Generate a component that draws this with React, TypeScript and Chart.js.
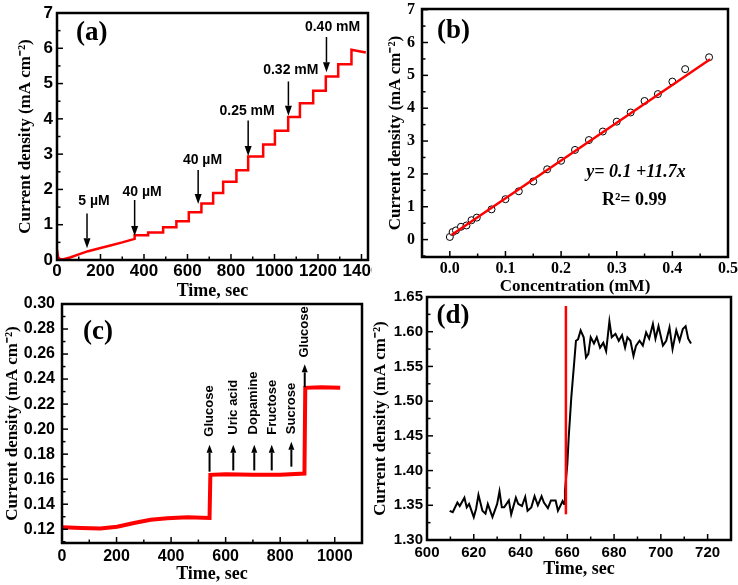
import React, { useEffect, useRef } from "react";
import { Chart, registerables } from "chart.js";
Chart.register(...registerables);

const SANS = "'Liberation Sans', Arial, sans-serif";
const SERIF = "'Liberation Serif', 'Times New Roman', serif";
const Y_TITLE = "Current density (mA cm\u207B\u00B2)";

// ---------- Panel (a) ----------
const aXTicks = [0, 200, 400, 600, 800, 1000, 1200, 1400];
const aYTicks = [0, 1, 2, 3, 4, 5, 6, 7];
const aInitTime = [0, 5, 15, 30, 60, 100, 143, 200, 250, 300, 357];
const aInitCurrent = [0.3, 0.08, 0.02, 0.02, 0.07, 0.16, 0.25, 0.34, 0.42, 0.5, 0.6];
const aStepTime = [357, 419, 488, 549, 606, 664, 718, 764, 825, 879, 948, 1002, 1063, 1117, 1178, 1236, 1293, 1354];
const aStepCurrent = [0.7, 0.78, 0.93, 1.1, 1.35, 1.6, 1.9, 2.22, 2.54, 2.93, 3.27, 3.66, 4.05, 4.44, 4.8, 5.2, 5.55, 5.96];
const aEndTime = 1420;
const aEndCurrent = 5.88;
const aArrowTime = [138, 357, 649, 879, 1064, 1239];
const aArrowTail = [1.32, 1.7, 2.55, 3.95, 5.06, 6.32];
const aArrowTip = [0.33, 0.68, 1.59, 2.95, 4.09, 5.32];
const aArrowLabel = ["5 \u00B5M", "40 \u00B5M", "40 \u00B5M", "0.25 mM", "0.32 mM", "0.40 mM"];
const aLabelTime = [170, 391, 669, 874, 1075, 1267];
const aLabelCurrent = [1.66, 1.92, 2.84, 4.21, 5.37, 6.6];

// ---------- Panel (b) ----------
const bXTicks = [0, 0.1, 0.2, 0.3, 0.4, 0.5];
const bYTicks = [0, 1, 2, 3, 4, 5, 6, 7];
const bConc = [0, 0.005, 0.011, 0.02, 0.03, 0.039, 0.0485, 0.075, 0.1, 0.124, 0.15, 0.175, 0.2, 0.225, 0.25, 0.275, 0.3, 0.325, 0.35, 0.374, 0.4, 0.423, 0.466];
const bCurrent = [0.08, 0.23, 0.28, 0.39, 0.43, 0.59, 0.67, 0.92, 1.23, 1.47, 1.77, 2.14, 2.4, 2.73, 3.03, 3.29, 3.59, 3.87, 4.22, 4.43, 4.81, 5.19, 5.55];
const bFitConc = [0.003, 0.468];
const bFitCurrent = [0.14, 5.49];

// ---------- Panel (c) ----------
const cXTicks = [0, 200, 400, 600, 800, 1000];
const cYTicks = [0.12, 0.14, 0.16, 0.18, 0.2, 0.22, 0.24, 0.26, 0.28, 0.3];
const cTime = [0, 70, 141, 202, 264, 325, 386, 460, 541, 544, 600, 700, 800, 889, 892, 950, 1020];
const cCurrent = [0.1215, 0.121, 0.1205, 0.122, 0.125, 0.1275, 0.1288, 0.1296, 0.129, 0.1635, 0.164, 0.1635, 0.1635, 0.1645, 0.233, 0.2335, 0.233];
const cArrowTime = [541, 628, 705, 769, 841, 890];
const cArrowTail = [0.166, 0.167, 0.167, 0.167, 0.17, 0.2335];
const cArrowTip = [0.1876, 0.1876, 0.1876, 0.1876, 0.19, 0.2518];
const cLabel = ["Glucose", "Uric acid", "Dopamine", "Fructose", "Sucrose", "Glucose"];
const cLabelTime = [540, 628, 701, 770, 840, 889];
const cLabelStart = [0.194, 0.1955, 0.1958, 0.1955, 0.196, 0.2572];

// ---------- Panel (d) ----------
const dXTicks = [600, 620, 640, 660, 680, 700, 720];
const dYTicks = [1.3, 1.35, 1.4, 1.45, 1.5, 1.55, 1.6, 1.65];
const dTime = [609.7, 611, 613, 614, 616, 617, 618, 620, 621, 622, 623.7, 625, 626, 628, 630, 631, 632, 633, 635, 636, 638, 639, 640.6, 642, 643, 644.6, 646, 647.4, 649, 650, 651.7, 653, 655, 656, 658, 658.6, 659, 660, 660.6, 661.7, 663, 663.7, 664.6, 665.7, 667, 668, 669, 670, 671.4, 672.6, 674, 675.4, 676.6, 678, 679, 680.6, 682, 683.4, 684.7, 685.7, 687, 688.3, 689.4, 690.9, 692.3, 693.7, 695, 696.6, 697.7, 699, 700.9, 702.3, 703.7, 705, 706.6, 708, 709.4, 710.6, 711.7, 712.9];
const dCurrent = [1.342, 1.34, 1.354, 1.349, 1.361, 1.347, 1.352, 1.333, 1.345, 1.365, 1.342, 1.338, 1.352, 1.333, 1.352, 1.37, 1.347, 1.347, 1.357, 1.337, 1.361, 1.352, 1.349, 1.362, 1.342, 1.347, 1.363, 1.35, 1.363, 1.354, 1.346, 1.357, 1.357, 1.342, 1.356, 1.352, 1.371, 1.409, 1.448, 1.505, 1.558, 1.587, 1.589, 1.602, 1.592, 1.563, 1.568, 1.592, 1.583, 1.592, 1.577, 1.584, 1.572, 1.615, 1.592, 1.597, 1.587, 1.595, 1.577, 1.592, 1.587, 1.565, 1.58, 1.587, 1.58, 1.599, 1.59, 1.611, 1.59, 1.608, 1.58, 1.587, 1.606, 1.575, 1.602, 1.587, 1.604, 1.608, 1.59, 1.583];
const dMarkTime = [659.4, 659.4];
const dMarkCurrent = [1.337, 1.637];

const zip = (xs: number[], ys: number[]) => xs.map((x, i) => ({ x, y: ys[i] }));

function scale(o: any) {
  return {
    type: "linear",
    min: o.min,
    max: o.max,
    grid: { display: false, drawTicks: false },
    border: { display: false },
    afterBuildTicks: (s: any) => {
      s.ticks = o.ticks.map((v: number) => ({ value: v }));
    },
    ticks: {
      autoSkip: false,
      maxRotation: 0,
      minRotation: 0,
      color: "#000",
      font: o.font,
      padding: o.pad,
      callback: (v: any) => o.fmt(Number(v)),
    },
    title: { display: true, text: o.title, color: "#000", font: o.titleFont, padding: o.titlePad },
    afterFit: (s: any) => {
      if (o.horizontal) {
        s.height = o.size;
        s.paddingLeft = 0;
        s.paddingRight = 0;
      } else {
        s.width = o.size;
        s.paddingTop = 0;
        s.paddingBottom = 0;
      }
    },
  };
}

function arrow(ctx: CanvasRenderingContext2D, x: number, y0: number, y1: number, lw: number, hw: number, hl: number) {
  const dir = Math.sign(y1 - y0);
  ctx.lineWidth = lw;
  ctx.beginPath();
  ctx.moveTo(x, y0);
  ctx.lineTo(x, y1 - dir * hl);
  ctx.stroke();
  ctx.beginPath();
  ctx.moveTo(x, y1);
  ctx.lineTo(x - hw / 2, y1 - dir * hl);
  ctx.lineTo(x + hw / 2, y1 - dir * hl);
  ctx.closePath();
  ctx.fill();
}

function framePlugin(xMinor: number, yMinor: number, deco: (c: any, ctx: CanvasRenderingContext2D) => void) {
  return {
    id: "frame",
    afterDatasetsDraw(chart: any) {
      const ctx: CanvasRenderingContext2D = chart.ctx;
      const a = chart.chartArea;
      const xs = chart.scales.x;
      const ys = chart.scales.y;
      ctx.save();
      ctx.strokeStyle = "#000";
      ctx.fillStyle = "#000";
      ctx.lineWidth = 1.5;
      const xMajor = xs.ticks.map((t: any) => t.value);
      const yMajor = ys.ticks.map((t: any) => t.value);
      const isMajor = (v: number, arr: number[], step: number) => arr.some((m) => Math.abs(m - v) < step * 0.01);
      for (let n = Math.ceil(xs.min / xMinor - 1e-9); n * xMinor <= xs.max + 1e-9; n++) {
        const v = n * xMinor;
        const px = xs.getPixelForValue(v);
        const len = isMajor(v, xMajor, xMinor) ? 6 : 3.5;
        ctx.beginPath();
        ctx.moveTo(px, a.bottom);
        ctx.lineTo(px, a.bottom - len);
        ctx.stroke();
      }
      for (let n = Math.ceil(ys.min / yMinor - 1e-9); n * yMinor <= ys.max + 1e-9; n++) {
        const v = n * yMinor;
        const py = ys.getPixelForValue(v);
        const len = isMajor(v, yMajor, yMinor) ? 6 : 3.5;
        ctx.beginPath();
        ctx.moveTo(a.left, py);
        ctx.lineTo(a.left + len, py);
        ctx.stroke();
      }
      ctx.lineWidth = 2.5;
      ctx.strokeRect(a.left, a.top, a.right - a.left, a.bottom - a.top);
      deco(chart, ctx);
      ctx.restore();
    },
  };
}

function baseOptions(pad: any, x: any, y: any) {
  return {
    responsive: false,
    animation: false,
    devicePixelRatio: 1,
    layout: { padding: pad },
    plugins: { legend: { display: false }, tooltip: { enabled: false } },
    scales: { x: scale({ ...x, horizontal: true }), y: scale(y) },
  };
}

function buildA() {
  const pts = zip(aInitTime, aInitCurrent);
  let prev = aInitCurrent[aInitCurrent.length - 1];
  aStepTime.forEach((t, i) => {
    pts.push({ x: t, y: prev });
    pts.push({ x: t, y: aStepCurrent[i] });
    prev = aStepCurrent[i];
  });
  pts.push({ x: aEndTime, y: aEndCurrent });
  const tickFont = { family: SANS, size: 17, weight: "bold" };
  return {
    type: "line",
    data: { datasets: [{ data: pts, borderColor: "#ff0000", borderWidth: 2.5, pointRadius: 0, tension: 0 }] },
    options: baseOptions(
      { left: 0, top: 13, right: 4, bottom: 0 },
      { min: 0, max: 1430, ticks: aXTicks, fmt: (v: number) => String(v), font: tickFont, pad: 1, size: 42, title: "Time, sec", titleFont: { family: SERIF, size: 18, weight: "bold" }, titlePad: { top: 0, bottom: 0 } },
      { min: 0, max: 7, ticks: aYTicks, fmt: (v: number) => String(v), font: tickFont, pad: 4, size: 57, title: Y_TITLE, titleFont: { family: SERIF, size: 17, weight: "bold" }, titlePad: { top: 15, bottom: 0 } }
    ),
    plugins: [
      framePlugin(100, 0.5, (c, ctx) => {
        const xs = c.scales.x, ys = c.scales.y;
        ctx.font = `bold 27px ${SERIF}`;
        ctx.textAlign = "center";
        ctx.textBaseline = "middle";
        ctx.fillText("(a)", xs.getPixelForValue(160), ys.getPixelForValue(6.43));
        ctx.font = `bold 14px ${SANS}`;
        aArrowTime.forEach((t, i) => {
          const px = xs.getPixelForValue(t);
          arrow(ctx, px, ys.getPixelForValue(aArrowTail[i]), ys.getPixelForValue(aArrowTip[i]), 1.5, 7, 10);
          ctx.fillText(aArrowLabel[i], xs.getPixelForValue(aLabelTime[i]), ys.getPixelForValue(aLabelCurrent[i]));
        });
      }),
    ],
  };
}

function buildB() {
  const tickFont = { family: SERIF, size: 16, weight: "bold" };
  return {
    type: "line",
    data: {
      datasets: [
        { data: zip(bFitConc, bFitCurrent), borderColor: "#ff0000", borderWidth: 2.5, pointRadius: 0, tension: 0 },
        { data: zip(bConc, bCurrent), showLine: false, pointRadius: 3.5, pointBackgroundColor: "#fff", pointBorderColor: "#000", pointBorderWidth: 1, borderColor: "#000" },
      ],
    },
    options: baseOptions(
      { left: 0, top: 9, right: 10, bottom: 0 },
      { min: -0.05, max: 0.5, ticks: bXTicks, fmt: (v: number) => v.toFixed(1), font: tickFont, pad: 2, size: 45, title: "Concentration (mM)", titleFont: { family: SERIF, size: 17, weight: "bold" }, titlePad: { top: 0, bottom: 5 } },
      { min: -0.53, max: 7.02, ticks: bYTicks, fmt: (v: number) => String(v), font: tickFont, pad: 7, size: 52, title: Y_TITLE, titleFont: { family: SERIF, size: 17, weight: "bold" }, titlePad: { top: 15, bottom: 0 } }
    ),
    plugins: [
      framePlugin(0.05, 0.5, (c, ctx) => {
        const xs = c.scales.x, ys = c.scales.y;
        ctx.textAlign = "center";
        ctx.textBaseline = "middle";
        ctx.font = `bold 27px ${SERIF}`;
        ctx.fillText("(b)", xs.getPixelForValue(0.0067), ys.getPixelForValue(6.34));
        ctx.font = `italic bold 18px ${SERIF}`;
        ctx.fillText("y= 0.1 +11.7x", xs.getPixelForValue(0.3345), ys.getPixelForValue(2.06));
        ctx.font = `bold 18px ${SERIF}`;
        ctx.fillText("R\u00B2= 0.99", xs.getPixelForValue(0.3315), ys.getPixelForValue(1.2));
      }),
    ],
  };
}

function buildC() {
  const tickFont = { family: SANS, size: 16, weight: "bold" };
  return {
    type: "line",
    data: { datasets: [{ data: zip(cTime, cCurrent), borderColor: "#ff0000", borderWidth: 4, pointRadius: 0, tension: 0 }] },
    options: baseOptions(
      { left: 0, top: 14, right: 10, bottom: 0 },
      { min: 0, max: 1100, ticks: cXTicks, fmt: (v: number) => String(v), font: tickFont, pad: 4, size: 42, title: "Time, sec", titleFont: { family: SERIF, size: 18, weight: "bold" }, titlePad: { top: 0, bottom: 0 } },
      { min: 0.109, max: 0.3, ticks: cYTicks, fmt: (v: number) => v.toFixed(2), font: tickFont, pad: 7, size: 62, title: Y_TITLE, titleFont: { family: SERIF, size: 17, weight: "bold" }, titlePad: { top: 2, bottom: 0 } }
    ),
    plugins: [
      framePlugin(100, 0.01, (c, ctx) => {
        const xs = c.scales.x, ys = c.scales.y;
        ctx.textAlign = "center";
        ctx.textBaseline = "middle";
        ctx.font = `bold 27px ${SERIF}`;
        ctx.fillText("(c)", xs.getPixelForValue(132), ys.getPixelForValue(0.2773));
        cArrowTime.forEach((t, i) => {
          arrow(ctx, xs.getPixelForValue(t), ys.getPixelForValue(cArrowTail[i]), ys.getPixelForValue(cArrowTip[i]), 2, 6, 8);
        });
        ctx.font = `bold 13px ${SANS}`;
        ctx.textAlign = "left";
        cLabel.forEach((s, i) => {
          ctx.save();
          ctx.translate(xs.getPixelForValue(cLabelTime[i]), ys.getPixelForValue(cLabelStart[i]));
          ctx.rotate(-Math.PI / 2);
          ctx.fillText(s, 0, 0);
          ctx.restore();
        });
      }),
    ],
  };
}

function buildD() {
  const tickFont = { family: SANS, size: 15, weight: "bold" };
  return {
    type: "line",
    data: {
      datasets: [
        { data: zip(dMarkTime, dMarkCurrent), borderColor: "#ff0000", borderWidth: 2.5, pointRadius: 0, tension: 0 },
        { data: zip(dTime, dCurrent), borderColor: "#000", borderWidth: 2, pointRadius: 0, tension: 0 },
      ],
    },
    options: baseOptions(
      { left: 0, top: 7, right: 7, bottom: 0 },
      { min: 600, max: 730, ticks: dXTicks, fmt: (v: number) => String(v), font: tickFont, pad: 4, size: 45, title: "Time, sec", titleFont: { family: SERIF, size: 18, weight: "bold" }, titlePad: { top: 0, bottom: 5 } },
      { min: 1.3, max: 1.65, ticks: dYTicks, fmt: (v: number) => v.toFixed(2), font: tickFont, pad: 4, size: 57, title: Y_TITLE, titleFont: { family: SERIF, size: 17, weight: "bold" }, titlePad: { top: 0, bottom: 0 } }
    ),
    plugins: [
      framePlugin(10, 0.025, (c, ctx) => {
        const xs = c.scales.x, ys = c.scales.y;
        ctx.textAlign = "center";
        ctx.textBaseline = "middle";
        ctx.font = `bold 27px ${SERIF}`;
        ctx.fillText("(d)", xs.getPixelForValue(611.1), ys.getPixelForValue(1.623));
      }),
    ],
  };
}

function Panel(props: { left: number; top: number; width: number; height: number; build: () => any }) {
  const ref = useRef<HTMLCanvasElement>(null);
  useEffect(() => {
    const chart = new Chart(ref.current as HTMLCanvasElement, props.build());
    return () => chart.destroy();
  }, []);
  return (
    <canvas
      ref={ref}
      width={props.width}
      height={props.height}
      style={{ position: "absolute", left: props.left, top: props.top, width: props.width, height: props.height }}
    />
  );
}

export default function App() {
  return (
    <div style={{ position: "absolute", left: 0, top: 0, width: 738, height: 585, background: "#fff", overflow: "hidden" }}>
      <Panel left={0} top={0} width={372} height={302} build={buildA} />
      <Panel left={370} top={0} width={368} height={302} build={buildB} />
      <Panel left={0} top={290} width={372} height={295} build={buildC} />
      <Panel left={370} top={290} width={368} height={295} build={buildD} />
    </div>
  );
}
